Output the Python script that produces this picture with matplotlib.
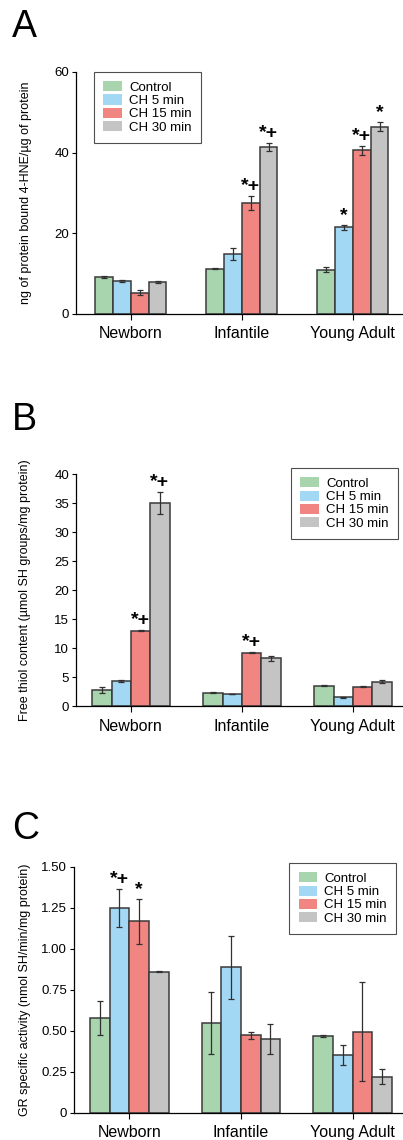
import numpy as np
import matplotlib
matplotlib.use('Agg')
from matplotlib import pyplot as plt

plt.rcParams['font.family'] = ['Liberation Sans', 'DejaVu Sans']

groups = ['Newborn', 'Infantile', 'Young Adult']
series = ['Control', 'CH 5 min', 'CH 15 min', 'CH 30 min']
colors = ['#a8d5ae', '#a3d8f5', '#f08582', '#c4c4c4']

# panel A: 4-HNE
hne = [[9.1, 11.2, 11.0],
       [8.1, 14.9, 21.5],
       [5.3, 27.5, 40.6],
       [7.9, 41.4, 46.4]]
hne_err = [[0.2, 0.1, 0.7],
           [0.2, 1.4, 0.6],
           [0.7, 1.7, 1.1],
           [0.2, 1.0, 1.1]]
hne_sig = [['', '', ''],
           ['', '', '*'],
           ['', '*+', '*+'],
           ['', '*+', '*']]

# panel B: free thiol
thiol = [[2.8, 2.3, 3.5],
         [4.3, 2.1, 1.5],
         [13.0, 9.2, 3.3],
         [35.0, 8.2, 4.2]]
thiol_err = [[0.5, 0.1, 0.1],
             [0.15, 0.05, 0.1],
             [0.1, 0.1, 0.1],
             [1.9, 0.4, 0.25]]
thiol_sig = [['', '', ''],
             ['', '', ''],
             ['*+', '*+', ''],
             ['*+', '', '']]

# panel C: GR activity
gr = [[0.579, 0.547, 0.472],
      [1.25, 0.888, 0.352],
      [1.17, 0.474, 0.496],
      [0.862, 0.451, 0.222]]
gr_err = [[0.105, 0.188, 0.006],
          [0.117, 0.19, 0.06],
          [0.137, 0.02, 0.30],
          [0.004, 0.09, 0.045]]
gr_sig = [['', '', ''],
          ['*+', '', ''],
          ['*', '', ''],
          ['', '', '']]


def panel(fig, rect, vals, errs, sigs, width, ylim, yticks, yticklabels,
          ylabel, ylab_x, letter, letter_y, leg_loc, leg_anchor, sig_pad):
    ax = fig.add_axes(rect)
    x = np.arange(len(groups))
    for k in range(len(series)):
        pos = x + (k - 1.5) * width
        ax.bar(pos, vals[k], width, color=colors[k], edgecolor='#3a3a3a',
               linewidth=1.1, label=series[k], zorder=2)
        ax.errorbar(pos, vals[k], yerr=errs[k], fmt='none', ecolor='#303030',
                    elinewidth=0.9, capsize=2.5, capthick=0.9, zorder=3)
        for j in range(len(groups)):
            if sigs[k][j]:
                ax.text(pos[j], vals[k][j] + errs[k][j] + sig_pad, sigs[k][j],
                        ha='center', va='bottom', fontsize=14,
                        fontweight='bold', zorder=4)
    ax.set_xlim(-0.495, 2.45)
    ax.set_ylim(*ylim)
    ax.set_yticks(yticks)
    ax.set_yticklabels(yticklabels)
    ax.set_xticks(x)
    ax.set_xticklabels(groups, fontsize=11.5)
    ax.tick_params(axis='y', labelsize=9.5, length=3, width=0.8, pad=2)
    ax.tick_params(axis='x', length=4, width=0.8, pad=5)
    for s in ['top', 'right']:
        ax.spines[s].set_visible(False)
    ax.spines['left'].set_linewidth(0.9)
    ax.spines['bottom'].set_linewidth(0.9)
    ax.set_ylabel(ylabel, fontsize=9)
    ax.yaxis.set_label_coords(ylab_x, 0.5)
    leg = ax.legend(loc=leg_loc, bbox_to_anchor=leg_anchor, fontsize=9.5,
                    frameon=True, fancybox=False, handlelength=1.4,
                    handleheight=0.8, handletextpad=0.55, borderpad=0.7,
                    labelspacing=0.05, borderaxespad=0)
    leg.get_frame().set_edgecolor('#222222')
    leg.get_frame().set_linewidth(0.8)
    for h in leg.legend_handles:
        h.set_edgecolor('none')
    fig.text(0.03, letter_y, letter, fontsize=27, va='center', ha='left')
    return ax


fig = plt.figure(figsize=(4.03, 11.40), dpi=100)

panel(fig, [0.1886, 0.7246, 0.811, 0.2123], hne, hne_err, hne_sig, 0.16,
      (0, 60), [0, 20, 40, 60], ['0', '20', '40', '60'],
      'ng of protein bound 4-HNE/µg of protein', -0.135, 'A', 1 - 27 / 1140,
      'upper left', (0.055, 1.0), 0.2)

panel(fig, [0.1886, 0.3807, 0.811, 0.2035], thiol, thiol_err, thiol_sig, 0.174,
      (0, 40), list(range(0, 41, 5)), [str(v) for v in range(0, 41, 5)],
      'Free thiol content (µmol SH groups/mg protein)', -0.138, 'B',
      1 - 420 / 1140, 'upper right', (0.985, 1.026), 0.1)

panel(fig, [0.1836, 0.0237, 0.816, 0.2158], gr, gr_err, gr_sig, 0.176,
      (0, 1.5), [0, 0.25, 0.5, 0.75, 1.0, 1.25, 1.5],
      ['0', '0.25', '0.50', '0.75', '1.00', '1.25', '1.50'],
      'GR specific activity (nmol SH/min/mg protein)', -0.131, 'C',
      1 - 829 / 1140, 'upper right', (0.98, 1.016), 0.005)

fig.savefig('out.png', dpi=100)
